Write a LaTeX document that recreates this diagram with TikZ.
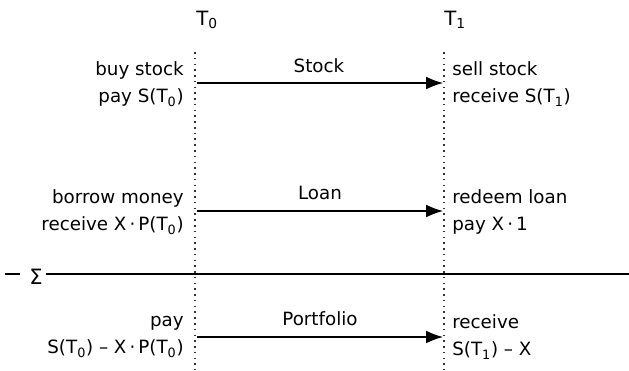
\documentclass[tikz,border=0pt]{standalone}
\usepackage{fontspec}
\setmainfont{DejaVu Sans}
\usetikzlibrary{arrows.meta}

\tikzset{
    timeline/.style={line width=1.1pt, dash pattern=on 1.1pt off 3pt, black!80},
    flow/.style={line width=0.8pt, -{Latex[length=12pt,width=9pt]}},
    lefttext/.style={anchor=east, align=right, inner sep=0pt},
    righttext/.style={anchor=west, align=left, inner sep=0pt},
    flowlabel/.style={inner sep=0pt}
}

\begin{document}
\begin{tikzpicture}[x=0.025cm, y=-0.025cm, font=\fontsize{13}{19.3}\selectfont]

    \useasboundingbox (0,0) rectangle (629,370);

    % time axis
    \node[font=\fontsize{14}{14}\selectfont] (t0) at (207,20) {T\textsubscript{0}};
    \node[font=\fontsize{14}{14}\selectfont] (t1) at (455,20) {T\textsubscript{1}};
    \draw[timeline] (195,52) -- (195,370);
    \draw[timeline] (444,52) -- (444,370);

    % Stock
    \coordinate (s0) at (197,83);
    \coordinate (s1) at (443,83);
    \draw[flow] (s0) -- (s1);
    \node[flowlabel] (stock) at (319,66) {Stock};
    \node[lefttext] (buy) at (184,84) {buy stock\\pay S(T\textsubscript{0})};
    \node[righttext] (sell) at (452,84) {sell stock\\receive S(T\textsubscript{1})};

    % Loan
    \coordinate (l0) at (197,211);
    \coordinate (l1) at (443,211);
    \draw[flow] (l0) -- (l1);
    \node[flowlabel] (loan) at (320,193) {Loan};
    \node[lefttext] (borrow) at (184,212) {borrow money\\receive X\,·\,P(T\textsubscript{0})};
    \node[righttext] (redeem) at (452,212) {redeem loan\\pay X\,·\,1};

    % Sum
    \draw[line width=1.8pt] (5,274) -- (20,274);
    \node[font=\fontsize{15}{15}\selectfont] (sigma) at (36,277) {Σ};
    \draw[line width=1.8pt] (46,274) -- (629,274);

    % Portfolio
    \coordinate (p0) at (197,337);
    \coordinate (p1) at (443,337);
    \draw[flow] (p0) -- (p1);
    \node[flowlabel] (portfolio) at (320,319) {Portfolio};
    \node[lefttext] (pay) at (184,337) {pay\\S(T\textsubscript{0}) – X\,·\,P(T\textsubscript{0})};
    \node[righttext] (receive) at (452,337) {receive\\S(T\textsubscript{1}) – X};

\end{tikzpicture}
\end{document}
